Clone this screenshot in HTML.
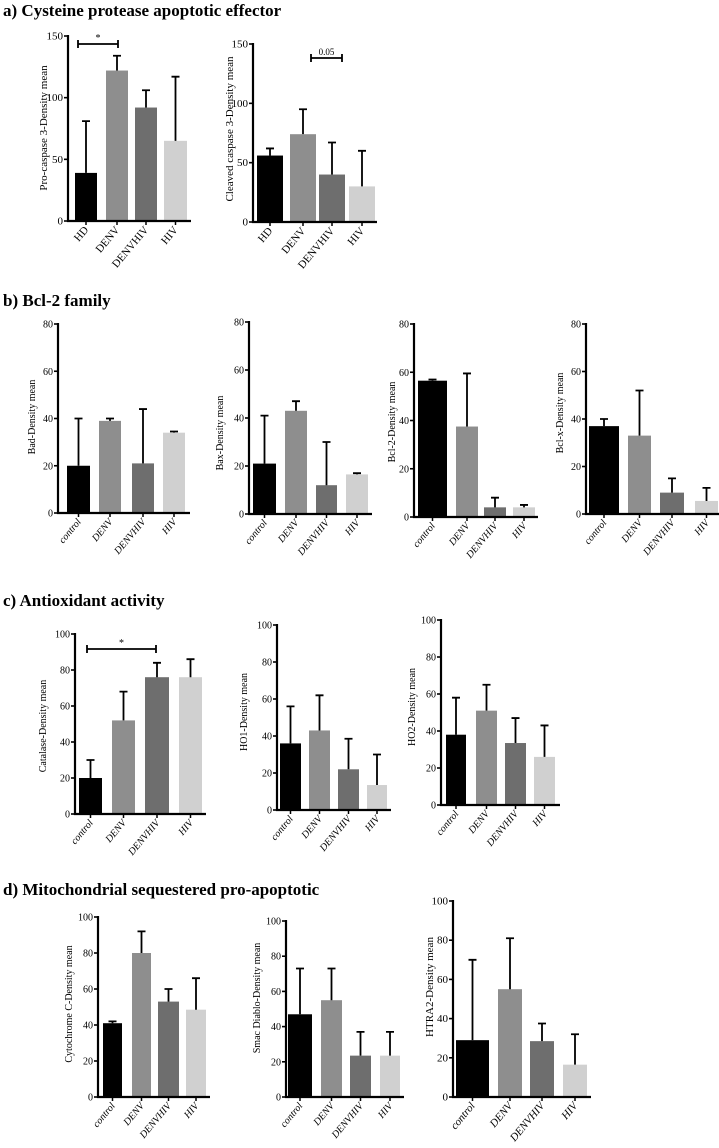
<!DOCTYPE html>
<html><head><meta charset="utf-8"><style>
body{margin:0;background:#fff;}
svg{display:block;font-family:"Liberation Serif",serif;}
svg text{font-family:"Liberation Serif",serif;}
</style></head><body>
<svg id="fig" width="719" height="1148" viewBox="0 0 719 1148">
<text x="3" y="16" font-size="17" font-weight="bold" font-family="Liberation Serif, serif">a) Cysteine protease apoptotic effector</text>
<text x="3" y="306" font-size="17" font-weight="bold" font-family="Liberation Serif, serif">b) Bcl-2 family</text>
<text x="3" y="606" font-size="17" font-weight="bold" font-family="Liberation Serif, serif">c) Antioxidant activity</text>
<text x="3" y="895" font-size="17" font-weight="bold" font-family="Liberation Serif, serif">d) Mitochondrial sequestered pro-apoptotic</text>
</svg>
<script>
const catsA = ["HD","DENV","DENVHIV","HIV"];
const catsB = ["control","DENV","DENVHIV","HIV"];
const colors = ["#000000","#8e8e8e","#6e6e6e","#d0d0d0"];
const ticks150 = [0,50,100,150];
const ticks80 = [0,20,40,60,80];
const ticks100 = [0,20,40,60,80,100];
const meanProCasp = [39,122,92,65];      const errProCasp = [81,134,106,117];
const meanCleaved = [56,74,40,30];       const errCleaved = [62,95,67,60];
const meanBad = [20,39,21,34];           const errBad = [40,40,44,34.5];
const meanBax = [21,43,12,16.5];         const errBax = [41,47,30,17];
const meanBcl2 = [56.5,37.5,4,4];        const errBcl2 = [57,59.5,8,5];
const meanBclx = [37,33,9,5.5];          const errBclx = [40,52,15,11];
const meanCat = [20,52,76,76];           const errCat = [30,68,84,86];
const meanHO1 = [36,43,22,13.5];         const errHO1 = [56,62,38.5,30];
const meanHO2 = [38,51,33.5,26];         const errHO2 = [58,65,47,43];
const meanCytC = [41,80,53,48.5];        const errCytC = [42,92,60,66];
const meanSmac = [47,55,23.5,23.5];      const errSmac = [73,73,37,37];
const meanHtra = [29,55,28.5,16.5];      const errHtra = [70,81,37.5,32];

const NS="http://www.w3.org/2000/svg";
const svg=document.getElementById('fig');
function mk(tag,attrs,parent){const e=document.createElementNS(NS,tag);for(const k in attrs)e.setAttribute(k,attrs[k]);(parent||svg).appendChild(e);return e;}

function chart(o){
  const g=mk('g',{'font-family':'Liberation Serif, serif'});
  
  
  const max=o.ticks[o.ticks.length-1];
  const y=v=>o.zero-(o.zero-o.top)*v/max;
  const fs=o.fs||10;
  o.means.forEach((m,i)=>{
    const c=o.centers[i], w=o.widths[i];
    const b=mk('rect',{x:c-w/2,y:y(m),width:w,height:o.zero-y(m),fill:colors[i]},g);
    
    
    const e=mk('path',{d:`M${c} ${y(m)}V${y(o.errs[i])}M${c-4} ${y(o.errs[i])}H${c+4}`,stroke:'#000','stroke-width':1.8,fill:'none'},g);
    
    
    mk('path',{d:`M${c} ${o.zero}v4`,stroke:'#000','stroke-width':1.5},g);
    const lb=mk('text',{x:c+3,y:o.zero+9,'font-size':fs,'text-anchor':'end','font-style':o.italic?'italic':'normal',transform:`rotate(-50 ${c+3} ${o.zero+9})`},g);
    lb.textContent=o.cats[i];
    
    
  });
  const ax=mk('path',{d:`M${o.ax} ${o.top-1}V${o.zero}H${o.end}`,stroke:'#000','stroke-width':2.2,fill:'none'},g);
  
  
  o.ticks.forEach(v=>{
    mk('path',{d:`M${o.ax-4} ${y(v)}H${o.ax}`,stroke:'#000','stroke-width':1.6},g);
    const t=mk('text',{x:o.ax-5,y:y(v)+3.5,'font-size':fs,'text-anchor':'end'},g);
    t.textContent=v;
    
    
  });
  const yl=mk('text',{x:o.lx,y:o.ly,'font-size':fs,'text-anchor':'middle',transform:`rotate(-90 ${o.lx} ${o.ly})`},g);
  yl.textContent=o.title;
  
  
  if(o.sig){
    const s=o.sig;
    mk('path',{d:`M${s.x1} ${s.y}H${s.x2}M${s.x1} ${s.y-4}v8M${s.x2} ${s.y-4}v8`,stroke:'#000','stroke-width':1.8,fill:'none'},g);
    const st=mk('text',{x:(s.x1+s.x2)/2,y:s.y-3,'font-size':s.label==='*'?10:9,'text-anchor':'middle'},g);
    st.textContent=s.label;
    
    
  }
}
function cen(a){return a.map(p=>(p[0]+p[1])/2);} function wid(a){return a.map(p=>p[1]-p[0]);}
function C(o,bars){o.centers=cen(bars);o.widths=wid(bars);chart(o);}

C({name:'chart-pro-caspase-3',cats:catsA,means:meanProCasp,errs:errProCasp,ticks:ticks150,ax:68,top:36,zero:221,end:191,lx:47,ly:128,title:'Pro-caspase 3-Density mean',fs:11,sig:{x1:78,x2:118,y:44,label:'*'}},[[75,97],[106,128],[135,157],[164,187]]);
C({name:'chart-cleaved-caspase-3',cats:catsA,means:meanCleaved,errs:errCleaved,ticks:ticks150,ax:253,top:44,zero:222,end:377,lx:233,ly:129,title:'Cleaved caspase 3-Density mean',fs:11,sig:{x1:311,x2:342,y:58,label:'0.05'}},[[257,283],[290,316],[319,345],[349,375]]);

C({name:'chart-bad',cats:catsB,italic:1,means:meanBad,errs:errBad,ticks:ticks80,ax:58,top:324,zero:513,end:190,lx:35,ly:417,title:'Bad-Density mean'},[[67,90],[99,121],[132,154],[163,185]]);
C({name:'chart-bax',cats:catsB,italic:1,means:meanBax,errs:errBax,ticks:ticks80,ax:249,top:322,zero:514,end:372,lx:223,ly:433,title:'Bax-Density mean'},[[253,276],[285,307],[316,337],[346,368]]);
C({name:'chart-bcl-2',cats:catsB,italic:1,means:meanBcl2,errs:errBcl2,ticks:ticks80,ax:414,top:324,zero:517,end:538,lx:395,ly:422,title:'Bcl-2-Density mean'},[[418,447],[456,478],[484,506],[513,535]]);
C({name:'chart-bcl-x',cats:catsB,italic:1,means:meanBclx,errs:errBclx,ticks:ticks80,ax:586,top:324,zero:514,end:719,lx:563,ly:413,title:'Bcl-x-Density mean'},[[589,619],[628,651],[660,684],[695,718]]);

C({name:'chart-catalase',cats:catsB,italic:1,means:meanCat,errs:errCat,ticks:ticks100,ax:75,top:634,zero:814,end:206,lx:46,ly:726,title:'Catalase-Density mean',sig:{x1:87,x2:156,y:649,label:'*'}},[[79,102],[112,135],[145,169],[179,202]]);
C({name:'chart-ho1',cats:catsB,italic:1,means:meanHO1,errs:errHO1,ticks:ticks100,ax:277,top:625,zero:810,end:391,lx:247,ly:712,title:'HO1-Density mean'},[[280,301],[309,330],[338,359],[367,387]]);
C({name:'chart-ho2',cats:catsB,italic:1,means:meanHO2,errs:errHO2,ticks:ticks100,ax:441,top:620,zero:805,end:560,lx:415,ly:707,title:'HO2-Density mean'},[[446,466],[476,497],[505,526],[534,555]]);

C({name:'chart-cytochrome-c',cats:catsB,italic:1,means:meanCytC,errs:errCytC,ticks:ticks100,ax:98,top:917,zero:1097,end:210,lx:72,ly:1004,title:'Cytochrome C-Density mean'},[[103,122],[132,151],[158,179],[186,206]]);
C({name:'chart-smac-diablo',cats:catsB,italic:1,means:meanSmac,errs:errSmac,ticks:ticks100,ax:286,top:921,zero:1097,end:404,lx:260,ly:998,title:'Smac Diablo-Density mean'},[[288,312],[321,342],[350,371],[380,400]]);
C({name:'chart-htra2',cats:catsB,italic:1,means:meanHtra,errs:errHtra,ticks:ticks100,ax:453,top:901,zero:1097,end:591,lx:433,ly:987,title:'HTRA2-Density mean',fs:11},[[456,489],[498,522],[530,554],[563,587]]);
</script>
</body></html>
